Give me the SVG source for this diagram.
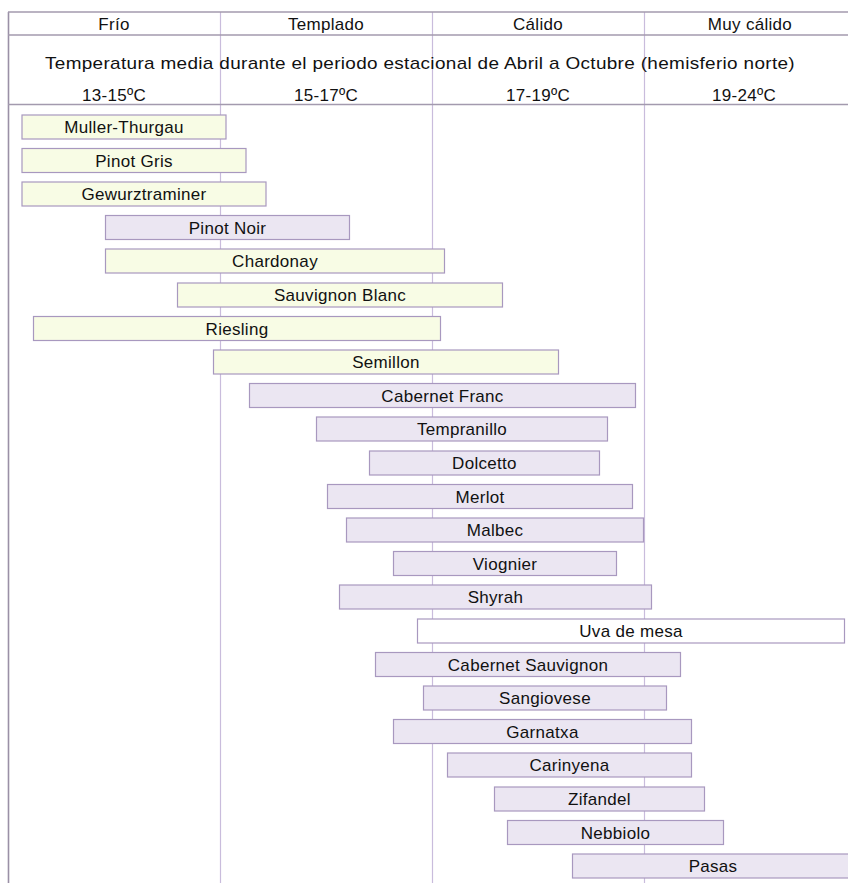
<svg xmlns="http://www.w3.org/2000/svg" width="848" height="883" viewBox="0 0 848 883">
  <style>
    .grid-h { stroke: #a39aae; stroke-width: 1.5; }
    .grid-v { stroke: #c9bcdc; stroke-width: 1.2; }
    .edge { stroke: #9a90a6; stroke-width: 1.6; }
    .bar rect { stroke: #a898bf; stroke-width: 1.2; }
    .white rect { fill: #f8fce5; }
    .red rect { fill: #ebe6f2; }
    .table rect { fill: #ffffff; }
    text { font-family: "Liberation Sans", "DejaVu Sans", sans-serif; font-size: 17px; letter-spacing: 0.3px; fill: #111; text-anchor: middle; }
  </style>
  <rect width="848" height="883" fill="#ffffff"/>

  <!-- grid: column separators and header rules -->
  <g id="grid">
    <line class="grid-v" x1="220.5" y1="12" x2="220.5" y2="883"/>
    <line class="grid-v" x1="432.5" y1="12" x2="432.5" y2="883"/>
    <line class="grid-v" x1="644.5" y1="12" x2="644.5" y2="883"/>
    <line class="edge" x1="8.5" y1="12" x2="8.5" y2="883"/>
    <line class="grid-h" x1="8" y1="12" x2="848" y2="12"/>
    <line class="grid-h" x1="8" y1="35" x2="848" y2="35"/>
    <line class="grid-h" x1="8" y1="104.5" x2="848" y2="104.5"/>
  </g>

  <!-- header -->
  <g id="header">
    <text x="114" y="29.5">Frío</text>
    <text x="326" y="29.5">Templado</text>
    <text x="538" y="29.5">Cálido</text>
    <text x="750" y="29.5">Muy cálido</text>
    <text x="420" y="69" textLength="750" lengthAdjust="spacingAndGlyphs">Temperatura media durante el periodo estacional de Abril a Octubre (hemisferio norte)</text>
    <text x="114" y="101">13-15ºC</text>
    <text x="326" y="101">15-17ºC</text>
    <text x="538" y="101">17-19ºC</text>
    <text x="744" y="101">19-24ºC</text>
  </g>

  <!-- grape varieties -->
  <g id="muller-thurgau" class="bar white"><rect x="22" y="115" width="204" height="24"/><text x="124" y="133">Muller-Thurgau</text></g>
  <g id="pinot-gris" class="bar white"><rect x="22" y="148.5" width="224" height="24"/><text x="134" y="166.5">Pinot Gris</text></g>
  <g id="gewurztraminer" class="bar white"><rect x="22" y="182" width="244" height="24"/><text x="144" y="200">Gewurztraminer</text></g>
  <g id="pinot-noir" class="bar red"><rect x="105.5" y="215.5" width="244" height="24"/><text x="227.5" y="233.5">Pinot Noir</text></g>
  <g id="chardonay" class="bar white"><rect x="105.5" y="249" width="339" height="24"/><text x="275" y="267">Chardonay</text></g>
  <g id="sauvignon-blanc" class="bar white"><rect x="177.5" y="283" width="325" height="24"/><text x="340" y="301">Sauvignon Blanc</text></g>
  <g id="riesling" class="bar white"><rect x="33.5" y="316.5" width="407" height="24"/><text x="237" y="334.5">Riesling</text></g>
  <g id="semillon" class="bar white"><rect x="213.5" y="350" width="345" height="24"/><text x="386" y="368">Semillon</text></g>
  <g id="cabernet-franc" class="bar red"><rect x="249.5" y="383.5" width="386" height="24"/><text x="442.5" y="401.5">Cabernet Franc</text></g>
  <g id="tempranillo" class="bar red"><rect x="316.5" y="417" width="291" height="24"/><text x="462" y="435">Tempranillo</text></g>
  <g id="dolcetto" class="bar red"><rect x="369.5" y="451" width="230" height="24"/><text x="484.5" y="469">Dolcetto</text></g>
  <g id="merlot" class="bar red"><rect x="327.5" y="484.5" width="305" height="24"/><text x="480" y="502.5">Merlot</text></g>
  <g id="malbec" class="bar red"><rect x="346.5" y="518" width="297" height="24"/><text x="495" y="536">Malbec</text></g>
  <g id="viognier" class="bar red"><rect x="393.5" y="551.5" width="223" height="24"/><text x="505" y="569.5">Viognier</text></g>
  <g id="shyrah" class="bar red"><rect x="339.5" y="585" width="312" height="24"/><text x="495.5" y="603">Shyrah</text></g>
  <g id="uva-de-mesa" class="bar table"><rect x="417.5" y="619" width="427" height="24"/><text x="631" y="637">Uva de mesa</text></g>
  <g id="cabernet-sauvignon" class="bar red"><rect x="375.5" y="652.5" width="305" height="24"/><text x="528" y="670.5">Cabernet Sauvignon</text></g>
  <g id="sangiovese" class="bar red"><rect x="423.5" y="686" width="243" height="24"/><text x="545" y="704">Sangiovese</text></g>
  <g id="garnatxa" class="bar red"><rect x="393.5" y="719.5" width="298" height="24"/><text x="542.5" y="737.5">Garnatxa</text></g>
  <g id="carinyena" class="bar red"><rect x="447.5" y="753" width="244" height="24"/><text x="569.5" y="771">Carinyena</text></g>
  <g id="zifandel" class="bar red"><rect x="494.5" y="787" width="210" height="24"/><text x="599.5" y="805">Zifandel</text></g>
  <g id="nebbiolo" class="bar red"><rect x="507.5" y="820.5" width="216" height="24"/><text x="615.5" y="838.5">Nebbiolo</text></g>
  <g id="pasas" class="bar red"><rect x="572.5" y="854" width="281" height="24"/><text x="713" y="872">Pasas</text></g>
</svg>
